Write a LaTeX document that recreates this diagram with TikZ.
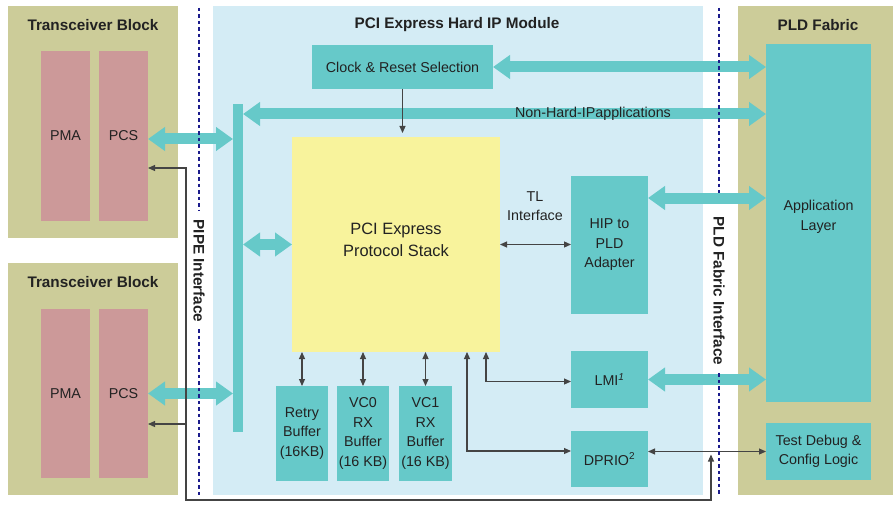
\documentclass[tikz,border=0pt]{standalone}
\usepackage{fontspec}
\setmainfont{Liberation Sans}
\usetikzlibrary{arrows.meta}
\definecolor{tealc}{HTML}{66C9C9}
\definecolor{lblue}{HTML}{D4ECF5}
\definecolor{khaki}{HTML}{CCCC99}
\definecolor{pinkc}{HTML}{CC9999}
\definecolor{yellc}{HTML}{F8F39C}
\definecolor{navyc}{HTML}{1C1C8C}
\definecolor{txtc}{HTML}{222222}
\definecolor{wirec}{HTML}{444444}
\begin{document}
\begin{tikzpicture}[x=1pt,y=-1pt,
  every node/.style={inner sep=0pt,outer sep=0pt,text=txtc},
  lbl/.style={align=center,font=\fontsize{14.3}{19.5}\selectfont},
  ttl/.style={font=\fontsize{15.3}{18}\selectfont\bfseries},
  iftext/.style={font=\fontsize{15.3}{18}\selectfont\bfseries,rotate=-90},
  tbox/.style={fill=tealc,lbl},
  fat/.style={draw=tealc,line width=11pt,arrows={Triangle[length=17pt,width=23pt]-Triangle[length=17pt,width=23pt]}},
  wire/.style={draw=wirec,line width=1.1pt},
  tip/.tip={Triangle[length=7pt,width=6pt]},
  dashl/.style={draw=navyc,line width=2.4pt,dash pattern=on 3.5pt off 3pt}]
\useasboundingbox (0,0) rectangle (893,505);
% background blocks
\node[fill=khaki,minimum width=170pt,minimum height=232pt] (tb1) at (93,122) {};
\node[fill=khaki,minimum width=170pt,minimum height=232pt] (tb2) at (93,379) {};
\node[fill=lblue,minimum width=490pt,minimum height=489pt] (hip) at (458,250.5) {};
\node[fill=khaki,minimum width=155pt,minimum height=489pt] (pld) at (815.5,250.5) {};
% titles
\node[ttl] (tb1t) at (93,25) {Transceiver Block};
\node[ttl] (tb2t) at (93,282) {Transceiver Block};
\node[ttl] (hipt) at (457,25) {PCI Express Hard IP Module};
\node[ttl] (pldt) at (818,25) {PLD Fabric};
% transceiver blocks
\node[fill=pinkc,lbl,minimum width=49pt,minimum height=170pt] (pma1) at (65.5,136) {PMA};
\node[fill=pinkc,lbl,minimum width=49pt,minimum height=170pt] (pcs1) at (123.5,136) {PCS};
\node[fill=pinkc,lbl,minimum width=49pt,minimum height=169pt] (pma2) at (65.5,393.5) {PMA};
\node[fill=pinkc,lbl,minimum width=49pt,minimum height=169pt] (pcs2) at (123.5,393.5) {PCS};
% hard IP contents
\node[tbox,minimum width=181pt,minimum height=44pt] (clock) at (402.5,67) {Clock \& Reset Selection};
\node[fill=tealc,minimum width=10pt,minimum height=328pt] (bar) at (238,268) {};
\node[fill=yellc,minimum width=208pt,minimum height=215pt,
  label={[align=center,font=\fontsize{16.4}{22}\selectfont,text=txtc,yshift=5pt]center:PCI Express\\Protocol Stack}] (stack) at (396,244.5) {};
\node[tbox,minimum width=77pt,minimum height=138pt] (adapter) at (609.5,245) {HIP to\\PLD\\Adapter};
\node[tbox,minimum width=77pt,minimum height=57pt] (lmi) at (609.5,379.5) {LMI\textsuperscript{\itshape 1}};
\node[tbox,minimum width=77pt,minimum height=56pt] (dprio) at (609.5,459) {DPRIO\textsuperscript{2}};
\node[tbox,minimum width=52pt,minimum height=95pt] (retry) at (302,433.5) {Retry\\Buffer\\(16KB)};
\node[tbox,minimum width=52pt,minimum height=95pt] (vc0) at (363,433.5) {VC0\\RX\\Buffer\\(16 KB)};
\node[tbox,minimum width=53pt,minimum height=95pt] (vc1) at (425.5,433.5) {VC1\\RX\\Buffer\\(16 KB)};
\node[lbl] (tl) at (535,206) {TL\\Interface};
% PLD fabric contents
\node[fill=tealc,minimum width=105pt,minimum height=358pt,
  label={[align=center,font=\fontsize{14.3}{19.5}\selectfont,text=txtc,yshift=6pt]center:Application\\Layer}] (app) at (818.5,223) {};
\node[tbox,minimum width=105pt,minimum height=57pt] (test) at (818.5,451.5) {Test Debug \&\\Config Logic};
% thick arrows
\draw[fat] (clock.east) -- (clock.east -| app.west);
\coordinate (nh) at ([yshift=-10pt]bar.north east);
\draw[fat] (nh) -- (nh -| app.west);
\node[lbl] (nhl) at (593,114) {Non-Hard-IPapplications};
\coordinate (p1) at ([yshift=-3pt]pcs1.east);
\draw[fat] (p1) -- (p1 -| bar.west);
\draw[fat] (pcs2.east) -- (pcs2.east -| bar.west);
\draw[fat] (stack.west -| bar.east) -- (stack.west);
\coordinate (a1) at ([yshift=47pt]adapter.east);
\draw[fat] (a1) -- (a1 -| app.west);
\draw[fat] (lmi.east) -- (lmi.east -| app.west);
% thin arrows
\draw[wire,-tip,shorten >=4pt] (clock.south) -- (clock.south |- stack.north);
\draw[wire,tip-tip] (stack.east) -- (stack.east -| adapter.west);
\draw[wire,tip-tip] (retry.north |- stack.south) -- (retry.north);
\draw[wire,tip-tip] (vc0.north |- stack.south) -- (vc0.north);
\draw[wire,tip-tip] (vc1.north |- stack.south) -- (vc1.north);
\draw[wire,tip-tip] ([xshift=90pt]stack.south) |- ([yshift=-2pt]lmi.west);
\coordinate (dpin) at ([yshift=8pt]dprio.west);
\draw[wire,tip-tip] ([xshift=71pt]stack.south) |- (dpin);
\draw[wire,tip-tip] (test.west) -- (test.west -| dprio.east);
\coordinate (dj) at (711,451.5);
\coordinate (corner) at (186,500);
\coordinate (pcsin1) at ([yshift=-32pt]pcs1.east);
\draw[wire,tip-tip,shorten >=3pt] (pcsin1) -| (corner) -| (dj);
\coordinate (tap) at (186,424);
\draw[wire,-tip] (tap) -- (tap -| pcs2.east);
% interface lines
\node[iftext] (pipe) at (199,271) {PIPE Interface};
\node[iftext] (pldi) at (719,291) {PLD Fabric Interface};
\coordinate (pipetop) at (199,8);
\coordinate (pipebot) at (199,495);
\coordinate (pldtop) at (719,8);
\coordinate (pldbot) at (719,494);
\draw[dashl,shorten >=10pt] (pipetop) -- (pipe.west);
\draw[dashl,shorten <=7pt] (pipe.east) -- (pipebot);
\draw[dashl,shorten >=24pt] (pldtop) -- (pldi.west);
\draw[dashl,shorten <=8pt] (pldi.east) -- (pldbot);
\end{tikzpicture}
\end{document}
